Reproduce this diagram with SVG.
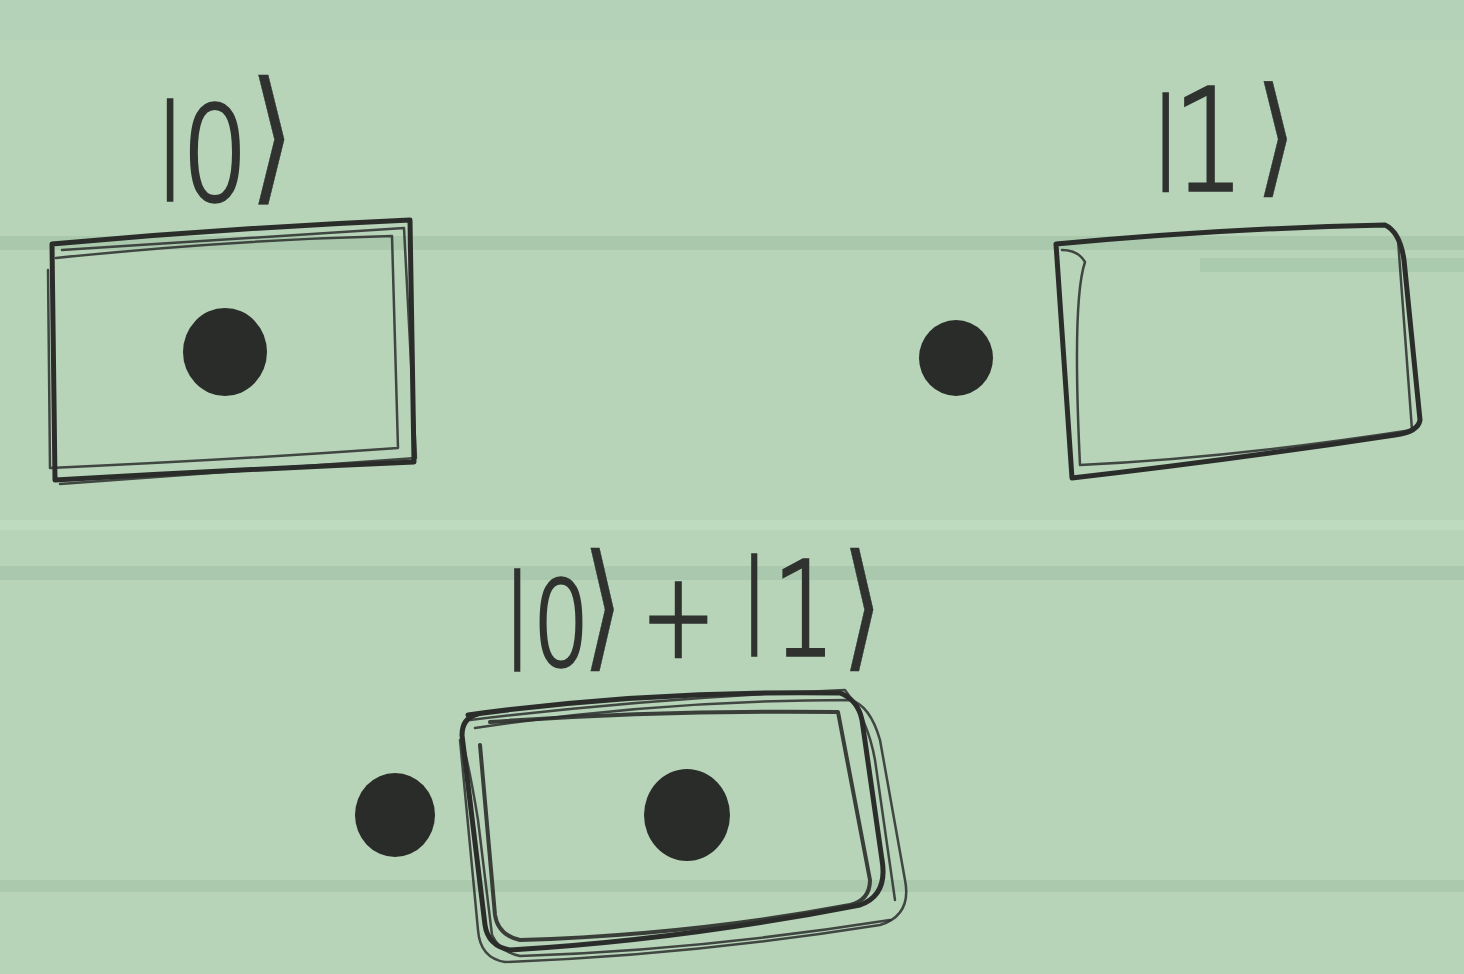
<svg xmlns="http://www.w3.org/2000/svg" width="1464" height="974" viewBox="0 0 1464 974">
<style>
.ink{fill:none;stroke:#2b2d2b;stroke-linecap:round;stroke-linejoin:round}
.s1{stroke-width:5}
.s2{stroke-width:2.5;opacity:.85}
.s3{stroke-width:4;opacity:.9}
.dot{fill:#2a2c2a}
.lbl{font-family:"DejaVu Sans",sans-serif;fill:#2f322f;stroke:#2f322f;stroke-width:3.5;font-weight:200}
.ket{font-weight:400;stroke-width:0.5}
</style>
<rect width="1464" height="974" fill="#b7d4b9"/>
<g id="paper" opacity="0.55">
<rect x="0" y="236" width="1464" height="14" fill="#9fbfa3"/>
<rect x="1200" y="258" width="264" height="14" fill="#a3c3a6"/>
<rect x="0" y="520" width="1464" height="10" fill="#c4dfc4"/>
<rect x="0" y="566" width="1464" height="14" fill="#a0c0a4"/>
<rect x="0" y="880" width="1464" height="12" fill="#a0c0a4"/>
<rect x="0" y="0" width="1464" height="40" fill="#b3d1b6"/>
</g>
<g id="state0">
<g transform="translate(150 0) scale(0.8 1)">
<text class="lbl"><tspan x="8" y="176" font-size="100">|</tspan><tspan x="40" y="200" font-size="130">0</tspan><tspan class="ket" x="124" y="185" font-size="145">⟩</tspan></text>
</g>
<path class="ink s1" d="M52 244 Q230 228 410 220 L414 462 Q230 470 55 480 Z"/>
<path class="ink s2" d="M56 258 Q230 240 392 236 L398 448 Q230 460 50 468 L48 270"/>
<path class="ink s2" d="M62 250 L404 228 L416 458 L60 484"/>
<ellipse class="dot" cx="225" cy="352" rx="42" ry="44"/>
</g>
<g id="state1">
<g transform="translate(1150 0) scale(0.8 1)">
<text class="lbl"><tspan x="3" y="167" font-size="97">|</tspan><tspan x="29" y="190" font-size="140">1</tspan><tspan class="ket" x="132" y="180" font-size="130">⟩</tspan></text>
</g>
<path class="ink s1" d="M1056 244 Q1230 228 1385 225 Q1400 232 1404 260 L1420 420 Q1418 432 1395 435 Q1230 460 1072 478 Z"/>
<path class="ink s2" d="M1062 250 Q1078 250 1085 262 Q1072 300 1080 465 Q1230 458 1412 430 L1398 240"/>
<ellipse class="dot" cx="956" cy="358" rx="37" ry="38"/>
</g>
<g id="superposition">
<g transform="translate(503 0) scale(0.75 1)">
<text class="lbl"><tspan x="2" y="646" font-size="100">|</tspan><tspan x="40" y="665" font-size="118">0</tspan><tspan class="ket" x="106" y="653" font-size="138">⟩</tspan><tspan x="147" y="657" font-size="118"> + </tspan><tspan x="318" y="631" font-size="100">|</tspan><tspan x="360" y="655" font-size="130">1</tspan><tspan class="ket" x="452" y="653" font-size="138">⟩</tspan></text>
</g>
<path class="ink s1" d="M468 715 Q650 690 840 693 Q858 700 862 720 L882 860 Q888 895 860 905 Q680 940 510 950 Q488 946 485 925 L462 735 Q462 718 478 714"/>
<path class="ink s2" d="M475 728 Q660 700 850 700 Q870 705 880 740 L905 880 Q912 915 880 925 Q690 955 505 962 Q480 958 478 930 L460 740"/>
<path class="ink s3" d="M490 722 Q660 710 838 712 L870 880 Q870 900 850 905 Q690 935 520 940 Q498 935 495 915 L480 745"/>
<path class="ink s2" d="M462 740 Q470 770 478 820 L492 935 Q500 952 520 956 Q700 950 890 920"/>
<path class="ink s2" d="M470 720 Q650 698 845 690 Q868 720 875 760 L895 900"/>
<ellipse class="dot" cx="395" cy="815" rx="40" ry="42"/>
<ellipse class="dot" cx="687" cy="815" rx="43" ry="46"/>
</g>
</svg>
